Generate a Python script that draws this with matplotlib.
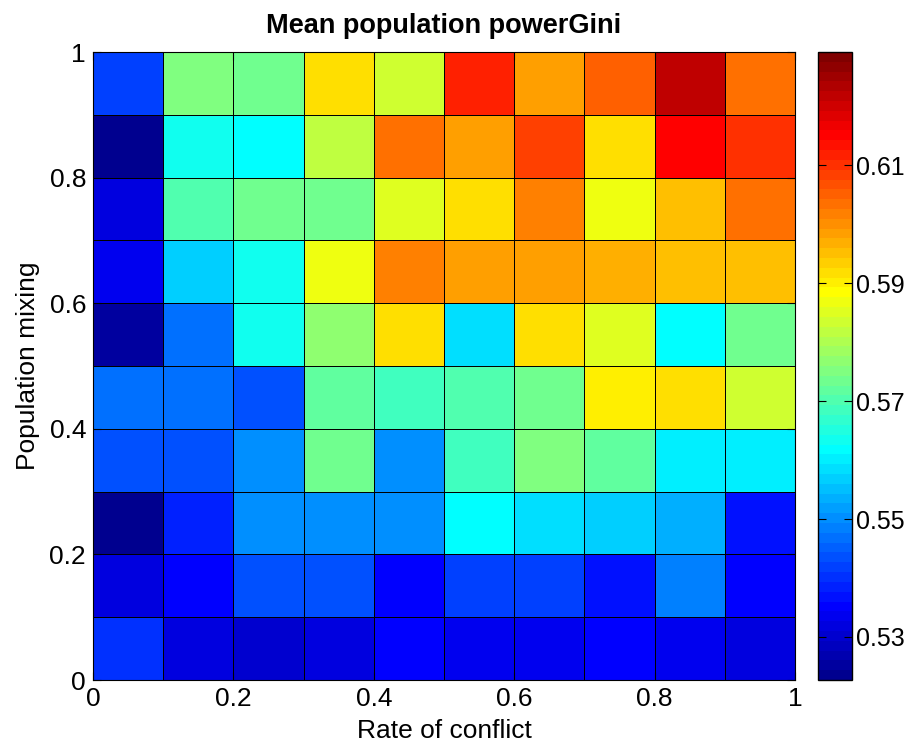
import numpy as np
import matplotlib
matplotlib.use('Agg')
import matplotlib.pyplot as plt
from matplotlib.colors import LinearSegmentedColormap

plt.rcParams['font.family'] = ['Liberation Sans', 'DejaVu Sans']

### DATA
conflict_edges = [0.0, 0.1, 0.2, 0.3, 0.4, 0.5, 0.6, 0.7, 0.8, 0.9, 1.0]
mixing_edges = [0.0, 0.1, 0.2, 0.3, 0.4, 0.5, 0.6, 0.7, 0.8, 0.9, 1.0]

# mean powerGini, rows from mixing 0-0.1 (bottom) up to 0.9-1 (top)
row_00 = [0.5394, 0.5325, 0.5307, 0.5325, 0.5355, 0.5342, 0.5342, 0.5360, 0.5342, 0.5325]
row_01 = [0.5325, 0.5360, 0.5427, 0.5427, 0.5360, 0.5411, 0.5411, 0.5376, 0.5477, 0.5360]
row_02 = [0.5227, 0.5381, 0.5507, 0.5507, 0.5509, 0.5626, 0.5578, 0.5560, 0.5528, 0.5376]
row_03 = [0.5440, 0.5427, 0.5507, 0.5733, 0.5509, 0.5680, 0.5752, 0.5714, 0.5608, 0.5608]
row_04 = [0.5461, 0.5461, 0.5427, 0.5714, 0.5680, 0.5706, 0.5733, 0.5893, 0.5911, 0.5831]
row_05 = [0.5254, 0.5467, 0.5642, 0.5767, 0.5911, 0.5591, 0.5911, 0.5845, 0.5626, 0.5733]
row_06 = [0.5342, 0.5573, 0.5642, 0.5874, 0.6010, 0.5980, 0.5980, 0.5965, 0.5946, 0.5946]
row_07 = [0.5325, 0.5709, 0.5738, 0.5728, 0.5857, 0.5917, 0.6018, 0.5874, 0.5946, 0.6026]
row_08 = [0.5227, 0.5642, 0.5626, 0.5810, 0.6039, 0.5980, 0.6079, 0.5914, 0.6143, 0.6108]
row_09 = [0.5413, 0.5749, 0.5728, 0.5911, 0.5831, 0.6124, 0.5980, 0.6052, 0.6225, 0.6026]

cbar_ticks = [0.53, 0.55, 0.57, 0.59, 0.61]
cbar_labels = ['0.53', '0.55', '0.57', '0.59', '0.61']
axis_ticks = [0, 0.2, 0.4, 0.6, 0.8, 1]
axis_labels = ['0', '0.2', '0.4', '0.6', '0.8', '1']

gini = np.array([row_00, row_01, row_02, row_03, row_04,
                 row_05, row_06, row_07, row_08, row_09])

### MATLAB style jet(64)
jet_nodes = [(0.0, (0, 0, 0.5625)), (7/63, (0, 0, 1)), (23/63, (0, 1, 1)),
             (39/63, (1, 1, 0)), (55/63, (1, 0, 0)), (1.0, (0.5, 0, 0))]
mjet = LinearSegmentedColormap.from_list('mjet', jet_nodes, N=64)

### PLOT
fig = plt.figure(figsize=(9.11, 7.51), dpi=100)
ax = fig.add_axes([93/911, 1 - 680/751, 702/911, 628/751])
cax = fig.add_axes([818/911, 1 - 680/751, 34/911, 628/751])

mesh = ax.pcolormesh(conflict_edges, mixing_edges, gini, cmap=mjet,
                     vmin=0.5227, vmax=0.6292, edgecolors='k', linewidth=0.7)

ax.set_xlim(0, 1)
ax.set_ylim(0, 1)
ax.set_xticks(axis_ticks)
ax.set_xticklabels(axis_labels)
ax.set_yticks(axis_ticks)
ax.set_yticklabels(axis_labels)
ax.tick_params(direction='in', labelsize=19, length=6, top=True, right=True, pad=5)
ax.set_xlabel('Rate of conflict', fontsize=19, labelpad=6)
ax.set_ylabel('Population mixing', fontsize=19, labelpad=7)
ax.set_title('Mean population powerGini', fontsize=19.5, fontweight='bold', pad=14)

cb = fig.colorbar(mesh, cax=cax, ticks=cbar_ticks)
cb.ax.tick_params(direction='in', labelsize=18, length=6, left=True, right=True, pad=3)
cb.ax.set_yticklabels(cbar_labels)
cb.outline.set_linewidth(1)

fig.savefig('out.png', dpi=100)
